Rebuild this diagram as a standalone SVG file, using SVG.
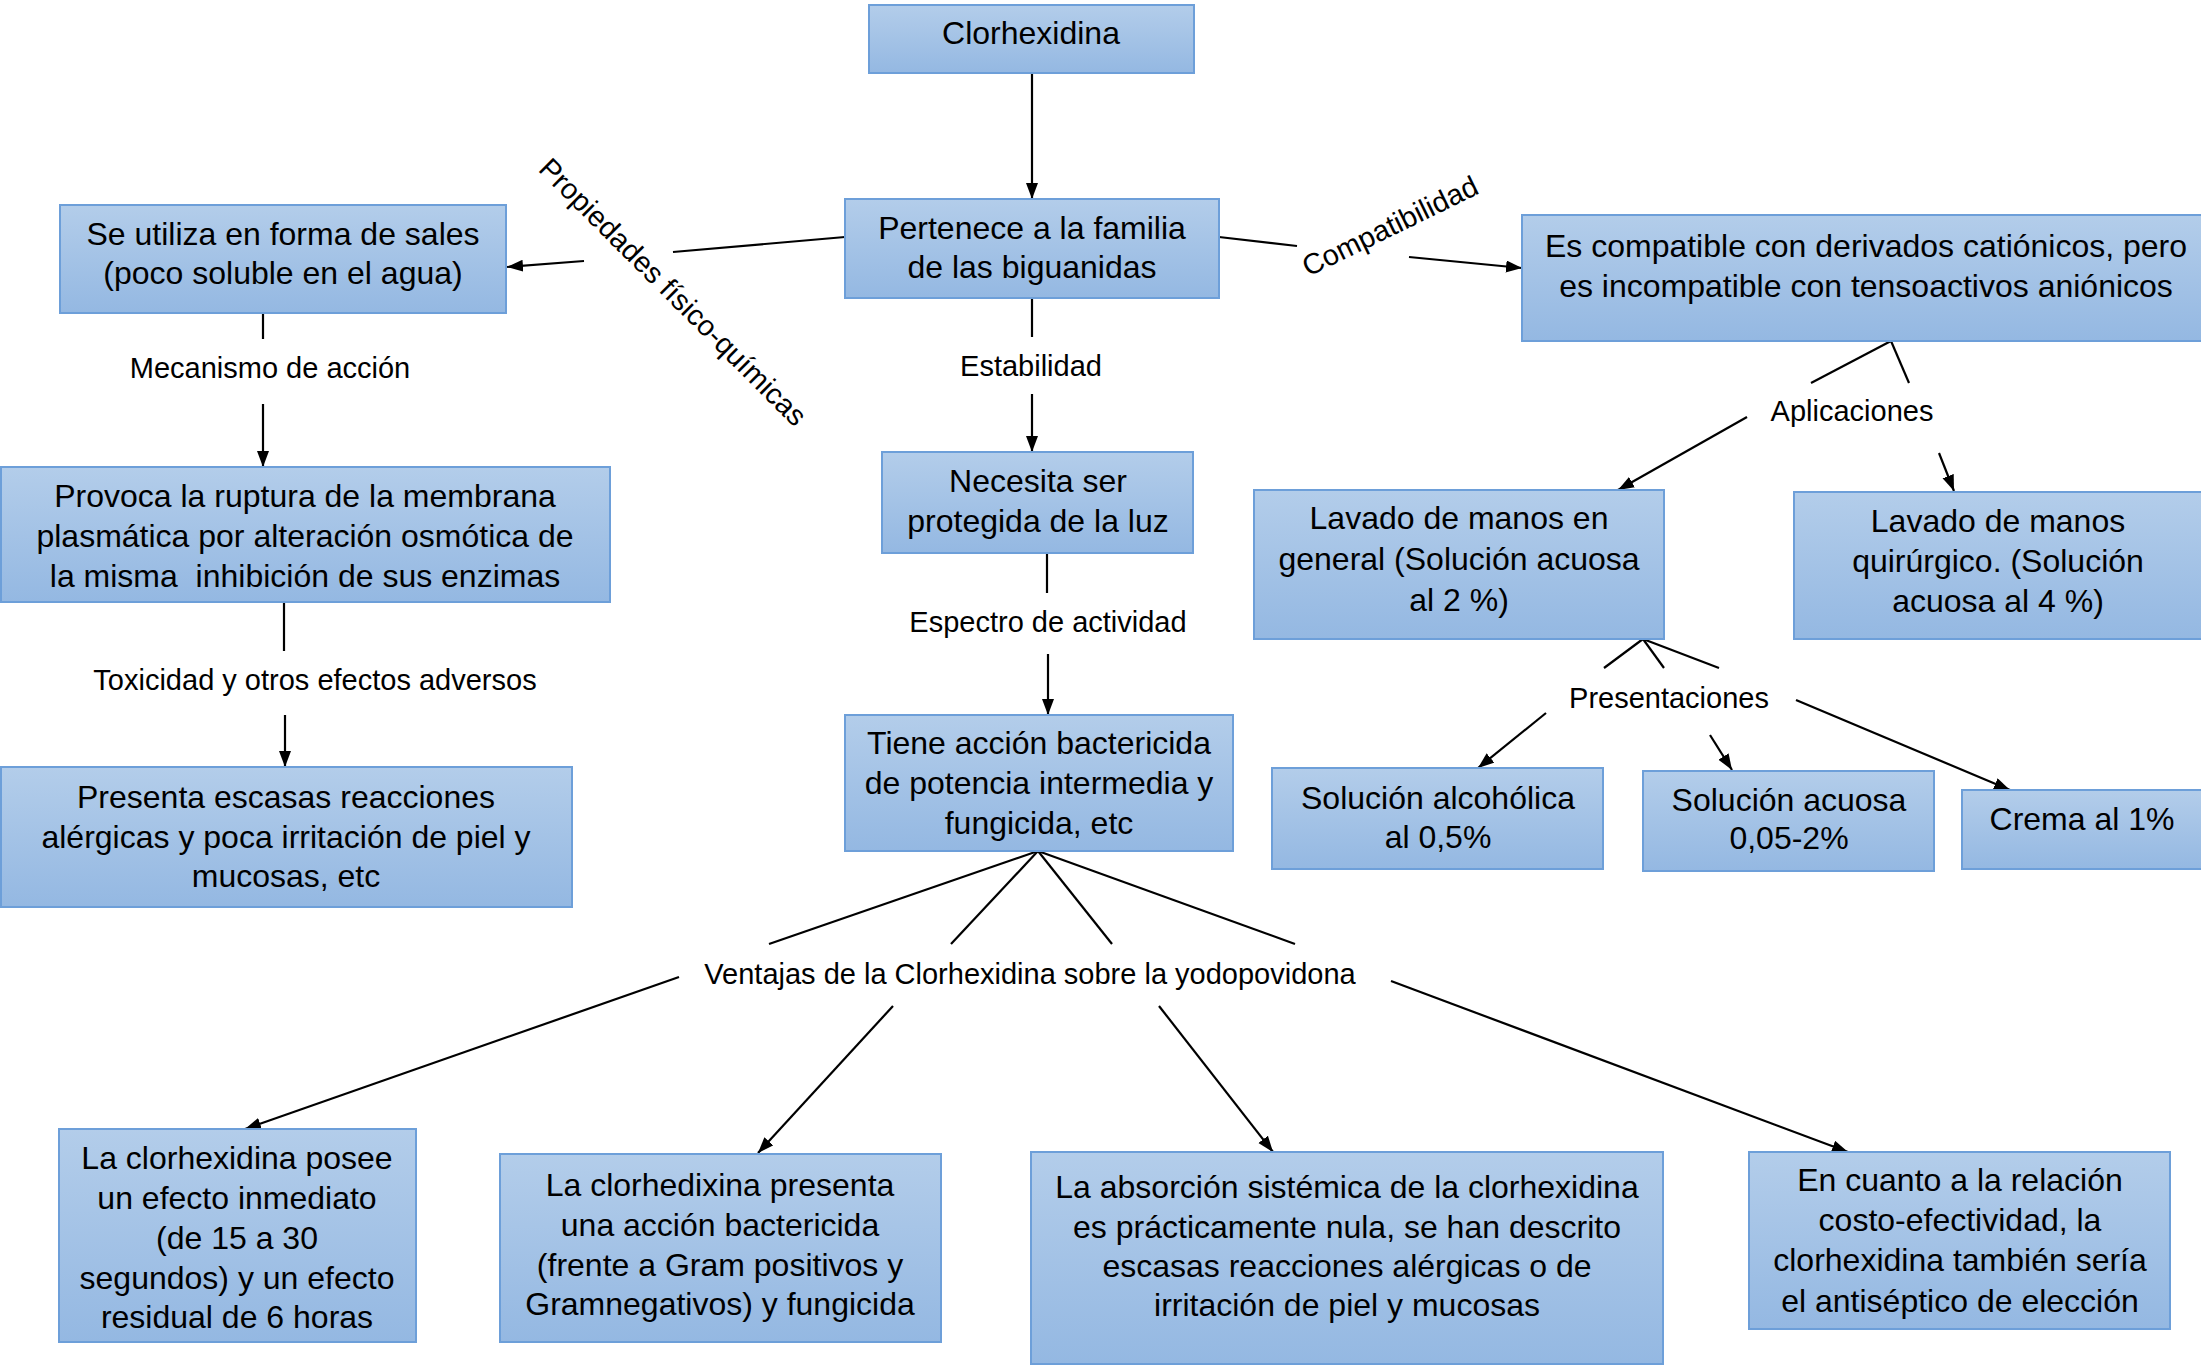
<svg xmlns="http://www.w3.org/2000/svg" width="2201" height="1366" viewBox="0 0 2201 1366">
<defs>
<linearGradient id="g" x1="0" y1="0" x2="0" y2="1">
<stop offset="0" stop-color="#b3cdea"/>
<stop offset="1" stop-color="#94b8e2"/>
</linearGradient>
<marker id="ah" markerUnits="userSpaceOnUse" markerWidth="18" markerHeight="14" refX="16" refY="6" orient="auto">
<path d="M0,0 L16,6 L0,12 z" fill="#000"/>
</marker>
<style>
.box{fill:url(#g);stroke:#6d9fd9;stroke-width:2}
.t{font-family:"Liberation Sans",Arial,sans-serif;font-size:32px;fill:#000;text-anchor:middle}
.l{font-family:"Liberation Sans",Arial,sans-serif;font-size:29px;fill:#000;text-anchor:middle}
.c{stroke:#000;stroke-width:2.2;fill:none}
.a{stroke:#000;stroke-width:2.2;fill:none;marker-end:url(#ah)}
</style>
</defs>
<rect width="2201" height="1366" fill="#fff"/>

<g id="connectors">
<line class="a" x1="1032" y1="73" x2="1032" y2="199"/>
<line class="c" x1="845" y1="237" x2="673" y2="252"/>
<line class="a" x1="584" y1="261" x2="507" y2="267"/>
<line class="c" x1="1219" y1="237" x2="1297" y2="246"/>
<line class="a" x1="1409" y1="257" x2="1522" y2="268"/>
<line class="c" x1="1032" y1="298" x2="1032" y2="337"/>
<line class="a" x1="1032" y1="394" x2="1032" y2="452"/>
<line class="c" x1="263" y1="313" x2="263" y2="339"/>
<line class="a" x1="263" y1="404" x2="263" y2="467"/>
<line class="c" x1="284" y1="602" x2="284" y2="651"/>
<line class="a" x1="285" y1="715" x2="285" y2="767"/>
<line class="c" x1="1047" y1="553" x2="1047" y2="593"/>
<line class="a" x1="1048" y1="654" x2="1048" y2="715"/>
<line class="c" x1="1038" y1="851" x2="769" y2="944"/>
<line class="c" x1="1038" y1="851" x2="951" y2="944"/>
<line class="c" x1="1038" y1="851" x2="1112" y2="944"/>
<line class="c" x1="1038" y1="851" x2="1295" y2="944"/>
<line class="a" x1="679" y1="977" x2="245" y2="1129"/>
<line class="a" x1="893" y1="1006" x2="758" y2="1153"/>
<line class="a" x1="1159" y1="1006" x2="1273" y2="1152"/>
<line class="a" x1="1391" y1="981" x2="1848" y2="1152"/>
<line class="c" x1="1891" y1="341" x2="1811" y2="383"/>
<line class="c" x1="1891" y1="341" x2="1909" y2="383"/>
<line class="a" x1="1747" y1="417" x2="1618" y2="490"/>
<line class="a" x1="1939" y1="453" x2="1954" y2="491"/>
<line class="c" x1="1643" y1="639" x2="1604" y2="668"/>
<line class="c" x1="1643" y1="639" x2="1664" y2="668"/>
<line class="c" x1="1643" y1="639" x2="1719" y2="668"/>
<line class="a" x1="1546" y1="713" x2="1478" y2="768"/>
<line class="a" x1="1710" y1="735" x2="1732" y2="770"/>
<line class="a" x1="1796" y1="700" x2="2010" y2="790"/>
</g>

<g id="labels">
<text class="l" transform="translate(673,292) rotate(45)" x="0" y="10">Propiedades físico-químicas</text>
<text class="l" transform="translate(1390,226) rotate(-26)" x="0" y="10">Compatibilidad</text>
<text class="l" x="270" y="378">Mecanismo de acción</text>
<text class="l" x="1031" y="376">Estabilidad</text>
<text class="l" x="315" y="690">Toxicidad y otros efectos adversos</text>
<text class="l" x="1048" y="632">Espectro de actividad</text>
<text class="l" x="1030" y="984">Ventajas de la Clorhexidina sobre la yodopovidona</text>
<text class="l" x="1852" y="421">Aplicaciones</text>
<text class="l" x="1669" y="708">Presentaciones</text>
</g>

<g id="n-clorhexidina">
<rect class="box" x="869" y="5" width="325" height="68"/>
<text class="t" x="1031" y="44">Clorhexidina</text>
</g>
<g id="n-pertenece">
<rect class="box" x="845" y="199" width="374" height="99"/>
<text class="t" x="1032" y="239">Pertenece a la familia</text>
<text class="t" x="1032" y="278">de las biguanidas</text>
</g>
<g id="n-sales">
<rect class="box" x="60" y="205" width="446" height="108"/>
<text class="t" x="283" y="245">Se utiliza en forma de sales</text>
<text class="t" x="283" y="284">(poco soluble en el agua)</text>
</g>
<g id="n-compatible">
<rect class="box" x="1522" y="215" width="690" height="126"/>
<text class="t" x="1866" y="257">Es compatible con derivados catiónicos, pero</text>
<text class="t" x="1866" y="297">es incompatible con tensoactivos aniónicos</text>
</g>
<g id="n-provoca">
<rect class="box" x="1" y="467" width="609" height="135"/>
<text class="t" x="305" y="507">Provoca la ruptura de la membrana</text>
<text class="t" x="305" y="547">plasmática por alteración osmótica de</text>
<text class="t" x="305" y="587" xml:space="preserve">la misma  inhibición de sus enzimas</text>
</g>
<g id="n-presenta">
<rect class="box" x="1" y="767" width="571" height="140"/>
<text class="t" x="286" y="808">Presenta escasas reacciones</text>
<text class="t" x="286" y="848">alérgicas y poca irritación de piel y</text>
<text class="t" x="286" y="887">mucosas, etc</text>
</g>
<g id="n-necesita">
<rect class="box" x="882" y="452" width="311" height="101"/>
<text class="t" x="1038" y="492">Necesita ser</text>
<text class="t" x="1038" y="532">protegida de la luz</text>
</g>
<g id="n-tiene">
<rect class="box" x="845" y="715" width="388" height="136"/>
<text class="t" x="1039" y="754">Tiene acción bactericida</text>
<text class="t" x="1039" y="794">de potencia intermedia y</text>
<text class="t" x="1039" y="834">fungicida, etc</text>
</g>
<g id="n-lavado-general">
<rect class="box" x="1254" y="490" width="410" height="149"/>
<text class="t" x="1459" y="529">Lavado de manos en</text>
<text class="t" x="1459" y="570">general (Solución acuosa</text>
<text class="t" x="1459" y="611">al 2 %)</text>
</g>
<g id="n-lavado-quirurgico">
<rect class="box" x="1794" y="492" width="410" height="147"/>
<text class="t" x="1998" y="532">Lavado de manos</text>
<text class="t" x="1998" y="572">quirúrgico. (Solución</text>
<text class="t" x="1998" y="612">acuosa al 4 %)</text>
</g>
<g id="n-alcoholica">
<rect class="box" x="1272" y="768" width="331" height="101"/>
<text class="t" x="1438" y="809">Solución alcohólica</text>
<text class="t" x="1438" y="848">al 0,5%</text>
</g>
<g id="n-acuosa">
<rect class="box" x="1643" y="771" width="291" height="100"/>
<text class="t" x="1789" y="811">Solución acuosa</text>
<text class="t" x="1789" y="849">0,05-2%</text>
</g>
<g id="n-crema">
<rect class="box" x="1962" y="790" width="242" height="79"/>
<text class="t" x="2082" y="830">Crema al 1%</text>
</g>
<g id="n-ventaja1">
<rect class="box" x="59" y="1129" width="357" height="213"/>
<text class="t" x="237" y="1169">La clorhexidina posee</text>
<text class="t" x="237" y="1209">un efecto inmediato</text>
<text class="t" x="237" y="1249">(de 15 a 30</text>
<text class="t" x="237" y="1289">segundos) y un efecto</text>
<text class="t" x="237" y="1328">residual de 6 horas</text>
</g>
<g id="n-ventaja2">
<rect class="box" x="500" y="1154" width="441" height="188"/>
<text class="t" x="720" y="1196">La clorhedixina presenta</text>
<text class="t" x="720" y="1236">una acción bactericida</text>
<text class="t" x="720" y="1276">(frente a Gram positivos y</text>
<text class="t" x="720" y="1315">Gramnegativos) y fungicida</text>
</g>
<g id="n-ventaja3">
<rect class="box" x="1031" y="1152" width="632" height="212"/>
<text class="t" x="1347" y="1198">La absorción sistémica de la clorhexidina</text>
<text class="t" x="1347" y="1238">es prácticamente nula, se han descrito</text>
<text class="t" x="1347" y="1277">escasas reacciones alérgicas o de</text>
<text class="t" x="1347" y="1316">irritación de piel y mucosas</text>
</g>
<g id="n-ventaja4">
<rect class="box" x="1749" y="1152" width="421" height="177"/>
<text class="t" x="1960" y="1191">En cuanto a la relación</text>
<text class="t" x="1960" y="1231">costo-efectividad, la</text>
<text class="t" x="1960" y="1271">clorhexidina también sería</text>
<text class="t" x="1960" y="1312">el antiséptico de elección</text>
</g>
</svg>
